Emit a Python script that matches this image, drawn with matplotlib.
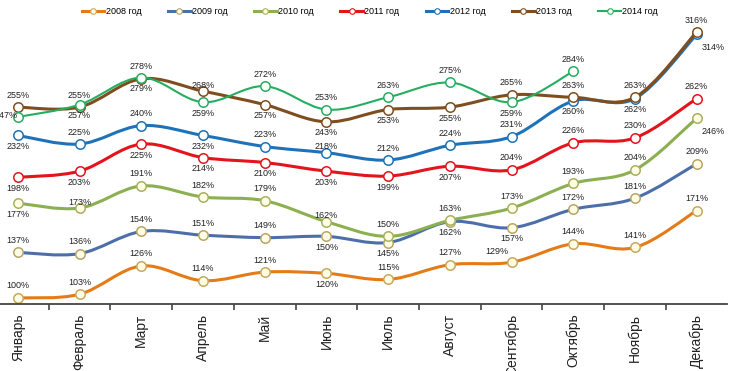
import numpy as np
import matplotlib
matplotlib.use('Agg')
import matplotlib.pyplot as plt
from matplotlib.path import Path
from matplotlib.patches import PathPatch
from matplotlib.lines import Line2D

plt.rcParams['font.family'] = ['Liberation Sans', 'DejaVu Sans']

months = ['Январь', 'Февраль', 'Март', 'Апрель', 'Май', 'Июнь', 'Июль',
          'Август', 'Сентябрь', 'Октябрь', 'Ноябрь', 'Декабрь']
years = ['2008 год', '2009 год', '2010 год', '2011 год', '2012 год', '2013 год', '2014 год']

v2008 = [100, 103, 126, 114, 121, 120, 115, 127, 129, 144, 141, 171]
v2009 = [137, 136, 154, 151, 149, 150, 145, 162, 157, 172, 181, 209]
v2010 = [177, 173, 191, 182, 179, 162, 150, 163, 173, 193, 204, 246]
v2011 = [198, 203, 225, 214, 210, 203, 199, 207, 204, 226, 230, 262]
v2012 = [232, 225, 240, 232, 223, 218, 212, 224, 231, 260, 262, 314]
v2013 = [255, 255, 278, 268, 257, 243, 253, 255, 265, 263, 263, 316]
v2014 = [247, 257, 279, 259, 272, 253, 263, 275, 259, 284]

series = [v2008, v2009, v2010, v2011, v2012, v2013, v2014]

# styling / layout (not data)
colors = ['#E47B17', '#4D6FA9', '#8CAF4F', '#E3141C', '#1F72B8', '#7F4E1E', '#25AE60']
edge = ['#C8A860', '#B8A468', '#A8B060', '#E3141C', '#1F72B8', '#7F4E1E', '#25AE60']
face = ['#FFFDE4', '#FFFDE4', '#FFFDE4', 'white', 'white', 'white', 'white']
widths = [2.2, 2.2, 2.2, 2.2, 2.2, 2.2, 1.5]

# where each data label sits relative to its point (pixels)
offs = {'a': (0, 12), 'b': (0, -11), 'as': (0, 6), 'l': (-12, 1),
        'al': (-15, 11), 'br': (17, -13)}
label_pos = [
    ['a', 'a', 'a', 'a', 'a', 'b', 'a', 'a', 'al', 'a', 'a', 'a'],
    ['a', 'a', 'a', 'a', 'a', 'b', 'b', 'b', 'b', 'a', 'a', 'a'],
    ['b', 'as', 'a', 'a', 'a', 'as', 'a', 'a', 'a', 'a', 'a', 'br'],
    ['b', 'b', 'b', 'b', 'b', 'b', 'b', 'b', 'a', 'a', 'a', 'a'],
    ['b', 'a', 'a', 'b', 'a', 'as', 'a', 'a', 'a', 'b', 'b', 'br'],
    ['a', 'a', 'a', 'as', 'b', 'b', 'b', 'b', 'a', 'a', 'a', 'a'],
    ['l', 'b', 'b', 'b', 'a', 'a', 'a', 'a', 'b', 'a'],
]


def smooth_path(x, y, k=1 / 6.0):
    # Excel-like smoothed line: cubic bezier through the points
    pts = np.column_stack([x, y]).astype(float)
    n = len(pts)
    verts = [pts[0]]
    codes = [Path.MOVETO]
    for i in range(n - 1):
        p0 = pts[max(i - 1, 0)]
        p1 = pts[i]
        p2 = pts[i + 1]
        p3 = pts[min(i + 2, n - 1)]
        verts += [p1 + (p2 - p0) * k, p2 - (p3 - p1) * k, p2]
        codes += [Path.CURVE4] * 3
    return Path(verts, codes)


fig = plt.figure(figsize=(7.44, 3.71), dpi=100)
ax = fig.add_axes([0, 0.1806, 0.977, 0.8194])

for i, vals in enumerate(series):
    x = np.arange(len(vals))
    z = 2 + i * 0.1
    ax.add_patch(PathPatch(smooth_path(x, vals), facecolor='none', edgecolor=colors[i],
                           lw=widths[i], capstyle='round', joinstyle='round', zorder=z))
    ax.plot(x, vals, 'o', ls='none', ms=6.8, mfc=face[i], mec=edge[i], mew=1.1, zorder=z + 0.05)
    for j, v in enumerate(vals):
        dx, dy = offs[label_pos[i][j]]
        ax.annotate(f'{v}%', (j, v), xytext=(dx, dy), textcoords='offset pixels',
                    ha='center', va='center', fontsize=6.5, color='#222222', zorder=10)

ax.set_xlim(-0.29, 11.49)
ax.set_ylim(95.1, 342)
ax.set_xticks(np.arange(len(months)))
ax.set_xticklabels(months, rotation=90, fontsize=10, color='#222222')
ax.set_xticks(np.arange(0.5, 11.5, 1), minor=True)
ax.tick_params(axis='x', which='major', length=0, pad=7)
ax.tick_params(axis='x', which='minor', length=4, width=1.2, color='#444444', direction='out')
ax.set_yticks([])
for s in ['top', 'right', 'left']:
    ax.spines[s].set_visible(False)
ax.spines['bottom'].set_color('#444444')
ax.spines['bottom'].set_linewidth(1.3)
ax.patch.set_alpha(0)

handles = [Line2D([], [], color=colors[i], lw=widths[i], marker='o', ms=4,
                  mfc=face[i], mec=edge[i], mew=0.8) for i in range(len(years))]
fig.legend(handles, years, loc='center', bbox_to_anchor=(0.497, 0.968), ncol=7,
           frameon=False, fontsize=6.5, handlelength=2.5, handletextpad=0.15,
           columnspacing=2.95, borderpad=0)

fig.savefig('out.png', dpi=100)
